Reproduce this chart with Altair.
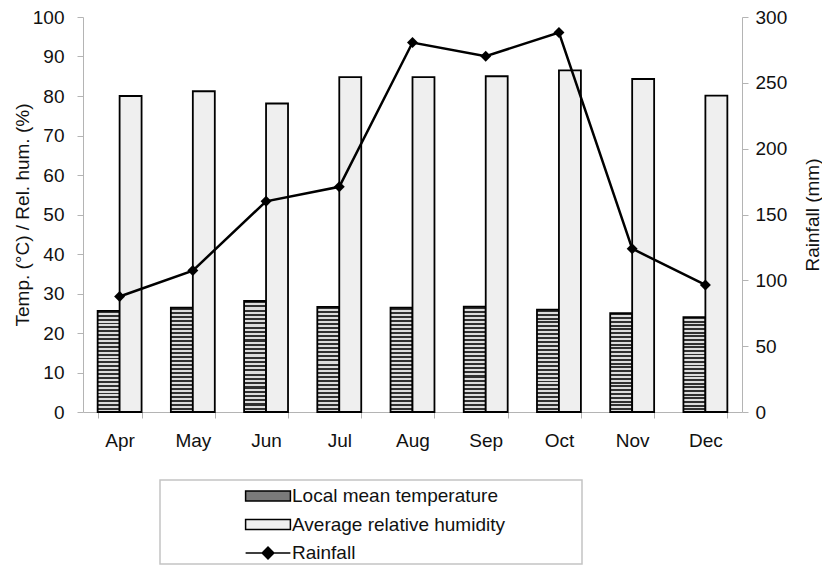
import altair as alt
import pandas as pd

months = ["Apr", "May", "Jun", "Jul", "Aug", "Sep", "Oct", "Nov", "Dec"]
temperature = [25.6, 26.4, 28.1, 26.6, 26.4, 26.7, 25.9, 25.0, 24.0]
humidity = [80.0, 81.2, 78.1, 84.8, 84.8, 85.0, 86.5, 84.3, 80.1]
rainfall = [87.7, 107.4, 160.0, 171.0, 280.6, 270.2, 288.2, 124.0, 96.5]

S_TEMP = "Local mean temperature"
S_HUM = "Average relative humidity"
S_RAIN = "Rainfall"

bars_df = pd.DataFrame({
    "month": months * 2,
    "series": [S_TEMP] * len(months) + [S_HUM] * len(months),
    "value": temperature + humidity,
})
rain_df = pd.DataFrame({"month": months, "rain": rainfall})

FONT = "Liberation Sans"
FS = 19
GRAY = "#b4b4b4"

# striped texture to evoke the zigzag hatch of the temperature bars
stops = []
n = 26
for i in range(n):
    a, b, c = i / n, (i + 0.5) / n, (i + 1) / n
    stops += [
        alt.GradientStop(offset=a, color="#303030"),
        alt.GradientStop(offset=b, color="#303030"),
        alt.GradientStop(offset=b, color="#dcdcdc"),
        alt.GradientStop(offset=c, color="#dcdcdc"),
    ]
zig = alt.LinearGradient(gradient="linear", stops=stops, x1=0, x2=0, y1=0, y2=1)

x_enc = alt.X(
    "month:N", sort=months,
    scale=alt.Scale(paddingInner=0.4, paddingOuter=0.2),
    axis=alt.Axis(title=None, labelAngle=0, tickBand="extent", domainColor=GRAY,
                  tickColor=GRAY, tickSize=6, labelFontSize=FS, labelPadding=13,
                  labelColor="#111", labelFont=FONT),
)

sym_expr = ("datum.value === 'Rainfall' ? "
            "'M-1.6,0H1.6M-0.42,0L0,-0.42L0.42,0L0,0.42Z' : "
            "'M-1.6,-0.36H1.6V0.36H-1.6Z'")

pad_str = "\u00a0" + "\u2800" * 5

bars = alt.Chart(bars_df).mark_bar(stroke="black", strokeWidth=1.8).encode(
    x=x_enc,
    xOffset=alt.XOffset("series:N", sort=[S_TEMP, S_HUM],
                        scale=alt.Scale(paddingInner=0, paddingOuter=0)),
    y=alt.Y("value:Q", scale=alt.Scale(domain=[0, 100]),
            axis=alt.Axis(values=list(range(0, 101, 10)), title="Temp. (°C) / Rel. hum. (%)",
                          grid=False, domainColor=GRAY, tickColor=GRAY, tickSize=6,
                          labelPadding=13, titlePadding=0, labelFontSize=FS,
                          titleFontSize=FS, titleFontWeight="normal", labelColor="#111",
                          titleColor="#111", labelFont=FONT, titleFont=FONT)),
    fill=alt.condition(
        alt.datum.series == S_TEMP,
        alt.value(zig),
        alt.Fill("series:N",
                 scale=alt.Scale(domain=[S_TEMP, S_HUM, S_RAIN],
                                 range=["#7a7a7a", "#efefef", "#000000"]),
                 legend=alt.Legend(
                     title=None, orient="none", legendX=77, legendY=463,
                     direction="vertical", symbolType={"expr": sym_expr},
                     symbolSize=784, symbolStrokeColor="black", symbolStrokeWidth=1.5,
                     symbolOffset=92, labelOffset=9,
                     labelFontSize=FS, labelFont=FONT, labelColor="#111",
                     labelExpr=f"datum.label + '{pad_str}'", labelLimit=800,
                 )),
    ),
)

line = alt.Chart(rain_df).mark_line(
    color="black", strokeWidth=2.5,
    point=alt.OverlayMarkDef(shape="diamond", filled=True, color="black", size=120, opacity=1),
).encode(
    x=x_enc,
    y=alt.Y("rain:Q", scale=alt.Scale(domain=[0, 300]),
            axis=alt.Axis(orient="right", values=list(range(0, 301, 50)), title="Rainfall (mm)",
                          grid=False, domainColor=GRAY, tickColor=GRAY, tickSize=6,
                          labelPadding=7, titlePadding=36, titleAngle=270, labelFontSize=FS,
                          titleFontSize=FS, titleFontWeight="normal", labelColor="#111",
                          titleColor="#111", labelFont=FONT, titleFont=FONT)),
)

chart = alt.layer(bars, line).resolve_scale(y="independent").properties(
    width=659, height=395,
    padding={"left": 75, "top": 9, "right": 80, "bottom": 156},
    autosize=alt.AutoSizeParams(type="none"),
    background="white",
).configure_view(stroke=None).configure_legend(
    strokeColor="#c4c4c4", strokeWidth=1.5, padding=1, rowPadding=3.5,
)

chart.save("out.html", embed_options={"renderer": "svg", "actions": False})
